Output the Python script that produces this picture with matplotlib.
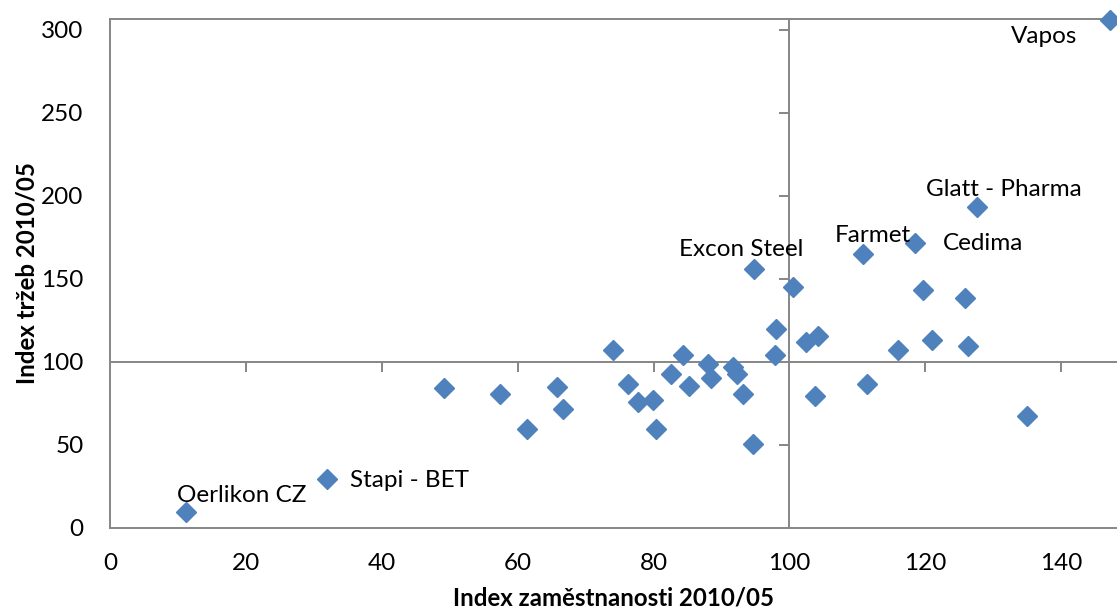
import matplotlib
matplotlib.use("Agg")
import matplotlib.pyplot as plt
from matplotlib.markers import TICKDOWN, TICKLEFT

plt.rcParams['font.family'] = ['Lato', 'DejaVu Sans']

# Data (Index zaměstnanosti 2010/05, Index tržeb 2010/05)
employment = [11.2, 32.0, 49.2, 57.4, 61.4, 65.8, 66.7, 74.0, 76.2, 77.7,
              79.9, 80.3, 82.5, 84.3, 85.2, 88.0, 88.4, 91.7, 92.3, 93.1,
              94.8, 94.6, 98.0, 97.9, 100.5, 102.4, 104.2, 103.7, 110.8, 111.4,
              116.0, 119.6, 118.5, 120.9, 125.8, 126.3, 127.6, 134.9, 147.2]
revenue = [9.6, 29.3, 84.0, 80.7, 59.6, 84.8, 71.7, 107.0, 86.6, 75.5,
           77.1, 59.6, 92.4, 104.2, 85.6, 98.6, 90.0, 96.6, 92.4, 80.5,
           155.7, 50.4, 119.7, 104.0, 145.2, 111.7, 115.5, 79.3, 164.7, 86.4,
           107.0, 143.2, 171.5, 113.1, 138.5, 109.6, 193.1, 67.3, 306.0]

label_names = ["Vapos", "Glatt - Pharma", "Cedima", "Farmet", "Excon Steel",
               "Oerlikon CZ", "Stapi - BET"]
label_x = [137.4, 131.5, 128.5, 112.2, 92.9, 19.4, 44.1]
label_y = [295.6, 203.4, 170.9, 176.2, 167.8, 19.7, 28.7]

x_ticks = [0, 20, 40, 60, 80, 100, 120, 140]
y_ticks = [0, 50, 100, 150, 200, 250, 300]
x_cross = 100
y_cross = 100

axis_color = '#868686'
marker_color = '#4F81BD'

fig = plt.figure(figsize=(11.17, 6.10), dpi=100)
ax = fig.add_axes([0.0985, 0.1349, 0.9015, 0.834])
ax.set_xlim(0, 148.2)
ax.set_ylim(0, 306.4)

for side in ['left', 'bottom', 'top']:
    ax.spines[side].set_color(axis_color)
    ax.spines[side].set_linewidth(1.4)
ax.spines['right'].set_visible(False)

ax.set_xticks(x_ticks)
ax.set_yticks(y_ticks)
ax.tick_params(axis='both', length=0, labelsize=17.5, colors='black')
ax.tick_params(axis='x', pad=18)
ax.tick_params(axis='y', pad=19)

# crossing axis lines
ax.axhline(y_cross, color=axis_color, lw=1.4, zorder=1)
ax.axvline(x_cross, color=axis_color, lw=1.4, zorder=1)
xt = [v for v in x_ticks if v not in (0, x_cross)]
yt = [v for v in y_ticks if v not in (0, y_cross)]
ax.plot(xt, [y_cross] * len(xt), ls='none', marker=TICKDOWN, ms=7,
        mew=1.4, color=axis_color, zorder=1)
ax.plot([x_cross] * len(yt), yt, ls='none', marker=TICKLEFT, ms=7,
        mew=1.4, color=axis_color, zorder=1)

ax.plot(employment, revenue, ls='none', marker='D', ms=10.5,
        color=marker_color, mec=marker_color, clip_on=False, zorder=3)

for name, lx, ly in zip(label_names, label_x, label_y):
    ax.text(lx, ly, name, fontsize=17.5, ha='center', va='center', zorder=4)

ax.set_xlabel('Index zaměstnanosti 2010/05', fontsize=17.3, fontweight='bold',
              labelpad=9)
ax.set_ylabel('Index tržeb 2010/05', fontsize=17.3, fontweight='bold',
              labelpad=2)

fig.savefig('out.png', dpi=100)
